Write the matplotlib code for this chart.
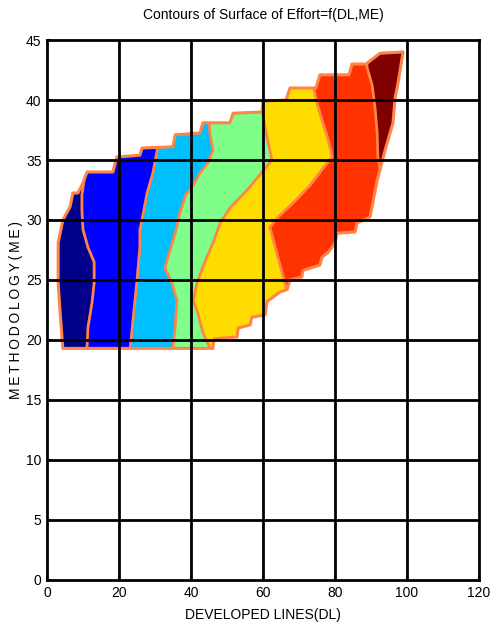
import matplotlib
matplotlib.use("Agg")
import matplotlib.pyplot as plt
from matplotlib.patches import Polygon
import numpy as np

FONT = ['Liberation Sans Narrow', 'Liberation Sans', 'DejaVu Sans']
plt.rcParams['font.family'] = FONT

title = "Contours of Surface of Effort=f(DL,ME)"
xlabel = "DEVELOPED LINES(DL)"
ylabel = "METHODOLOGY(ME)"
xticks = [0, 20, 40, 60, 80, 100, 120]
yticks = [0, 5, 10, 15, 20, 25, 30, 35, 40, 45]

# Boundary of the data region (DL, ME)
boundary_dl = [4.4, 3.6, 3.1, 3.1, 4.4, 6.4, 7.2, 8.6, 10.0, 11.1, 18.3, 19.4, 25.8, 26.4,
               35.0, 35.6, 42.5, 43.3, 50.8, 51.7, 59.7, 60.0, 66.4, 67.5, 74.7, 75.8,
               83.9, 84.7, 88.6, 92.5, 98.9, 97.5, 96.7, 96.1, 93.9, 92.5, 91.7, 90.3,
               89.7, 86.1, 85.6, 80.6, 80.0, 78.1, 76.4, 75.8, 71.1, 70.8, 67.5, 66.7,
               64.7, 61.1, 60.6, 56.9, 56.4, 53.1, 52.8, 46.4, 46.1]
boundary_me = [19.3, 22.5, 24.75, 28.1, 30.0, 31.1, 32.25, 32.25, 33.1, 34.0, 34.0, 35.25,
               35.4, 36.0, 36.1, 37.1, 37.25, 38.1, 38.1, 38.9, 39.0, 39.9, 40.0, 41.0,
               41.0, 42.1, 42.1, 43.0, 43.0, 43.9, 44.0, 41.4, 40.2, 38.1, 35.8, 34.2,
               33.3, 31.1, 30.25, 29.75, 29.0, 28.9, 28.1, 27.3, 26.9, 26.25, 25.8, 25.25,
               25.0, 24.2, 24.0, 23.2, 22.1, 21.9, 21.25, 21.0, 20.25, 20.1, 19.3]

# Contour lines separating the effort bands (bottom -> top)
c1_dl = [11.1, 11.1, 11.4, 12.5, 13.1, 13.1, 11.4, 10.0, 9.7, 9.7, 10.3, 10.3]
c1_me = [17.0, 19.3, 21.1, 23.1, 24.75, 26.5, 27.7, 29.2, 30.8, 32.1, 33.3, 46.0]
c2_dl = [23.1, 23.1, 23.9, 25.0, 25.8, 25.8, 26.4, 27.8, 29.4, 30.6, 30.6]
c2_me = [17.0, 19.3, 21.7, 25.0, 27.75, 29.2, 30.0, 32.25, 33.9, 35.8, 46.0]
c3_dl = [35.0, 35.0, 35.6, 36.1, 34.7, 32.8, 33.6, 35.6, 36.9, 38.6, 40.6, 42.5, 44.7,
         46.1, 45.3, 45.0, 45.0]
c3_me = [17.0, 19.4, 21.1, 23.3, 24.75, 26.0, 26.9, 28.9, 30.6, 32.1, 32.9, 33.9, 34.75,
         35.8, 37.1, 38.2, 46.0]
c4_dl = [45.3, 45.3, 43.3, 41.9, 40.6, 41.7, 43.3, 46.1, 48.1, 50.8, 55.6, 59.2, 62.5,
         61.1, 60.0, 59.7, 59.7]
c4_me = [17.0, 19.3, 20.6, 22.25, 23.3, 24.75, 26.1, 28.1, 29.75, 31.0, 32.5, 33.8, 35.0,
         36.9, 38.6, 39.6, 46.0]
c5_dl = [68.5, 66.7, 65.3, 63.6, 62.5, 61.9, 64.2, 68.3, 73.1, 76.4, 79.2, 78.1, 76.4,
         75.0, 74.2, 74.2]
c5_me = [20.0, 24.1, 25.6, 27.5, 28.75, 29.4, 30.25, 31.4, 32.9, 34.2, 35.25, 36.7, 38.3,
         39.75, 40.8, 46.0]
c6_dl = [93.5, 92.8, 91.9, 91.7, 91.1, 90.3, 88.9, 88.6]
c6_me = [30.0, 33.75, 35.25, 37.25, 39.4, 41.25, 42.7, 46.0]

contours = [(c1_dl, c1_me), (c2_dl, c2_me), (c3_dl, c3_me),
            (c4_dl, c4_me), (c5_dl, c5_me), (c6_dl, c6_me)]

band_colors = ['#00008A', '#0000FF', '#00BFFF', '#7FFF8A', '#FFDC00', '#FF3300', '#800000']
line_color = '#FF8448'

fig = plt.figure(figsize=(4.9, 6.37), dpi=100)
ax = fig.add_axes([0.0959, 0.0895, 0.8817, 0.8477])
ax.set_xlim(0, 120)
ax.set_ylim(0, 45)

bpoly = np.column_stack([boundary_dl, boundary_me])
clip = Polygon(bpoly, closed=True, transform=ax.transData, facecolor='none', edgecolor='none')
ax.add_patch(clip)

# base band
ax.fill(boundary_dl, boundary_me, color=band_colors[0], lw=0, zorder=1)

for k, (cd, cm) in enumerate(contours, start=1):
    pts = list(zip(cd, cm))
    pts += [(130, cm[-1]), (130, cm[0])]
    p = Polygon(pts, closed=True, facecolor=band_colors[k], edgecolor='none', zorder=1 + k * 0.01)
    ax.add_patch(p)
    p.set_clip_path(clip)

for cd, cm in contours:
    ln, = ax.plot(cd, cm, color=line_color, lw=2.0, zorder=2, solid_joinstyle='round')
    ln.set_clip_path(clip)

ax.fill(boundary_dl, boundary_me, facecolor='none', edgecolor=line_color, lw=2.2, zorder=2.1,
        joinstyle='round')

# grid on top
for xv in xticks[1:-1]:
    ax.axvline(xv, color='black', lw=2.0, zorder=3)
for yv in yticks[1:-1]:
    ax.axhline(yv, color='black', lw=2.0, zorder=3)

for s in ax.spines.values():
    s.set_linewidth(2.0)
    s.set_zorder(4)

ax.set_xticks(xticks)
ax.set_yticks(yticks)
ax.tick_params(direction='in', length=3, width=1.5, labelsize=10, pad=4)

ax.set_title(title, fontsize=10, pad=15)
ax.set_xlabel(xlabel, fontsize=10, labelpad=6)
spaced = "\u2009".join(ylabel)
ax.set_ylabel(spaced, fontsize=10, labelpad=2, family=FONT)

fig.savefig("out.png", dpi=100)
